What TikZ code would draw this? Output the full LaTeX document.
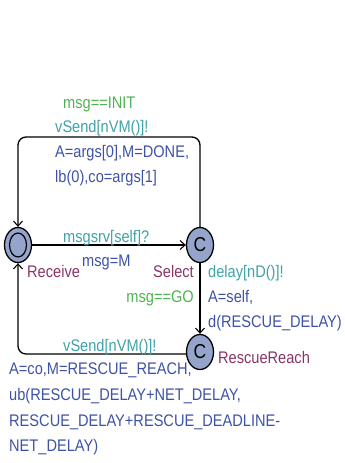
\documentclass[tikz,border=0pt]{standalone}
\usepackage{fontspec}
\setmainfont{Liberation Sans}
\usetikzlibrary{arrows.meta,shapes.geometric}
\definecolor{guardc}{RGB}{78,178,82}
\definecolor{syncc}{RGB}{62,162,168}
\definecolor{updc}{RGB}{62,82,166}
\definecolor{namec}{RGB}{138,52,100}
\definecolor{locc}{RGB}{148,164,202}
% labels are set slightly taller than wide
\newcommand{\tall}[1]{\scalebox{1}[1.15]{#1}}
\tikzset{
  loc/.style={draw=black, line width=1.3pt, fill=locc, ellipse, minimum width=27pt, minimum height=35pt, inner sep=0pt},
  commit/.style={loc, font=\fontsize{17.5}{19}\selectfont},
  edge/.style={draw=black, line width=1.3pt, rounded corners=8pt},
  tip/.style={-{Straight Barb[length=5pt,width=9pt,line width=1.1pt]}},
  lab/.style={anchor=base west, inner sep=0pt, font=\fontsize{14.6}{17}\selectfont},
  guard/.style={lab, text=guardc},
  sync/.style={lab, text=syncc},
  upd/.style={lab, text=updc},
  lname/.style={lab, text=namec},
}
\begin{document}
\begin{tikzpicture}[x=1pt,y=-1pt]
\useasboundingbox (0,0) rectangle (345,463);
% locations
\node[loc] (rcv) at (18,245) {};
\node[draw=black, line width=1.2pt, ellipse, minimum width=17pt, minimum height=24pt, inner sep=0pt] (rcvin) at (18,245) {};
\node[commit] (sel) at (200,245) {\tall{C}};
\node[commit] (rr) at (200,352) {\tall{C}};
\coordinate (tr) at (200,137);
\coordinate (tl) at (18,137);
\coordinate (bl) at (18,354);
% edges
\draw[edge, tip] (sel.north) -- (tr) -- (tl) -- (rcv.north);
\draw[edge, tip] (rcv.east) -- (sel.west);
\draw[edge, tip] (sel.south) -- (rr.north);
\draw[edge, tip] (rr.west |- bl) -- (bl) -- (rcv.south);
% location names
\node[lname] (nrcv) at (27,277.5) {\tall{Receive}};
\node[lname, anchor=base east] (nsel) at (194,277.5) {\tall{Select}};
\node[lname] (nrr) at (218,363.5) {\tall{RescueReach}};
% top loop labels
\node[guard] (g1) at (63,108.5) {\tall{msg==INIT}};
\node[sync] (s1) at (55,132.5) {\tall{vSend[nVM()]!}};
\node[upd] (u1a) at (55,157.5) {\tall{A=args[0],M=DONE,}};
\node[upd] (u1b) at (55,182.5) {\tall{lb(0),co=args[1]}};
% receive edge labels
\node[sync] (s2) at (63,242) {\tall{msgsrv[self]?}};
\node[upd] (u2) at (82,266.5) {\tall{msg=M}};
% select to rescue labels
\node[guard, anchor=base east] (g3) at (194,302.5) {\tall{msg==GO}};
\node[sync] (s3) at (208,277.5) {\tall{delay[nD()]!}};
\node[upd] (u3a) at (208,302.5) {\tall{A=self,}};
\node[upd] (u3b) at (208,327.5) {\tall{d(RESCUE\_DELAY)}};
% rescue back to receive labels
\node[sync] (s4) at (63,351) {\tall{vSend[nVM()]!}};
\node[upd] (u4a) at (9,374.5) {\tall{A=co,M=RESCUE\_REACH,}};
\node[upd] (u4b) at (9,400.5) {\tall{ub(RESCUE\_DELAY+NET\_DELAY,}};
\node[upd] (u4c) at (9,426.5) {\tall{RESCUE\_DELAY+RESCUE\_DEADLINE-}};
\node[upd] (u4d) at (9,451.5) {\tall{NET\_DELAY)}};
\end{tikzpicture}
\end{document}
